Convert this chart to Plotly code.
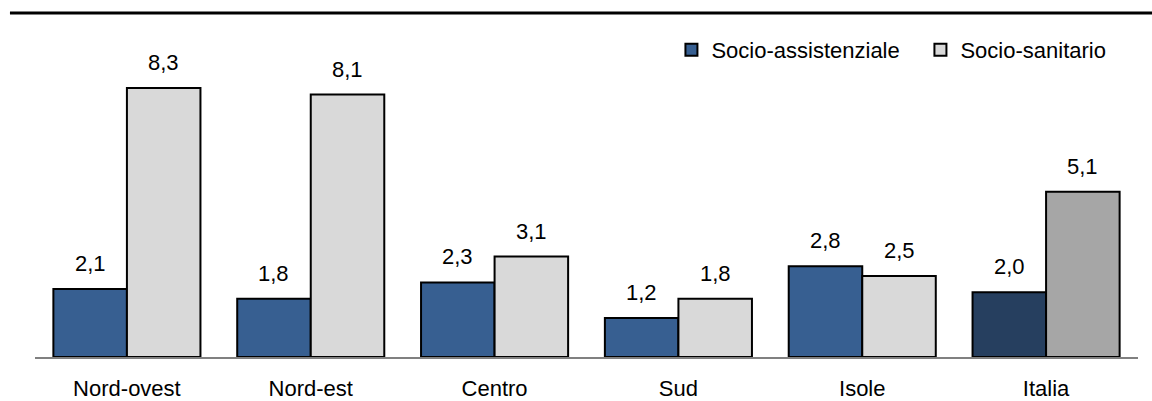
import plotly.graph_objects as go

categories = ["Nord-ovest", "Nord-est", "Centro", "Sud", "Isole", "Italia"]
socio_assistenziale = [2.1, 1.8, 2.3, 1.2, 2.8, 2.0]
socio_sanitario = [8.3, 8.1, 3.1, 1.8, 2.5, 5.1]
series_names = ["Socio-assistenziale", "Socio-sanitario"]

blue = "#375F91"
blue_dark = "#263F5F"
gray = "#D9D9D9"
gray_dark = "#A6A6A6"

FONT = "Liberation Sans Narrow, Arial Narrow, Liberation Sans, Arial, sans-serif"
FS = 22

def fmt(v):
    return f"{v:.1f}".replace(".", ",")

colors_a = [blue] * 5 + [blue_dark]
colors_b = [gray] * 5 + [gray_dark]

fig = go.Figure()
fig.add_trace(go.Bar(x=categories, y=socio_assistenziale, name=series_names[0],
                     marker=dict(color=colors_a, line=dict(color="#000000", width=2))))
fig.add_trace(go.Bar(x=categories, y=socio_sanitario, name=series_names[1],
                     marker=dict(color=colors_b, line=dict(color="#000000", width=2))))

# value labels
annotations = []
for i, c in enumerate(categories):
    for vals, shift in ((socio_assistenziale, -36.8), (socio_sanitario, 36.8)):
        annotations.append(dict(x=c, y=vals[i], xref="x", yref="y", text=fmt(vals[i]),
                                showarrow=False, xshift=shift, yshift=11, yanchor="bottom",
                                font=dict(family=FONT, size=FS, color="#000000")))

fig.update_layout(
    width=1152, height=401,
    margin=dict(l=35, r=14, t=33, b=44, autoexpand=False),
    barmode="group", bargap=0.2, bargroupgap=0,
    plot_bgcolor="white", paper_bgcolor="white",
    font=dict(family=FONT, size=FS, color="#000000"),
    annotations=annotations,
    legend=dict(orientation="h", x=0.577, y=0.9475, xanchor="left", yanchor="middle",
                entrywidth=204, entrywidthmode="pixels",
                font=dict(family=FONT, size=FS), bgcolor="rgba(0,0,0,0)"),
    shapes=[dict(type="line", xref="paper", yref="paper", x0=-0.0227, x1=1.013,
                 y0=1.0617, y1=1.0617, line=dict(color="#000000", width=3))],
)
fig.update_xaxes(showline=True, linecolor="#808080", linewidth=2, showgrid=False,
                 ticks="", ticklabelstandoff=11, automargin=False,
                 tickfont=dict(family=FONT, size=FS))
fig.update_yaxes(range=[0, 10], visible=False, showgrid=False, zeroline=False)

fig.write_html("out.html", config={"displayModeBar": False},
               post_script="document.body.style.margin='0';")
